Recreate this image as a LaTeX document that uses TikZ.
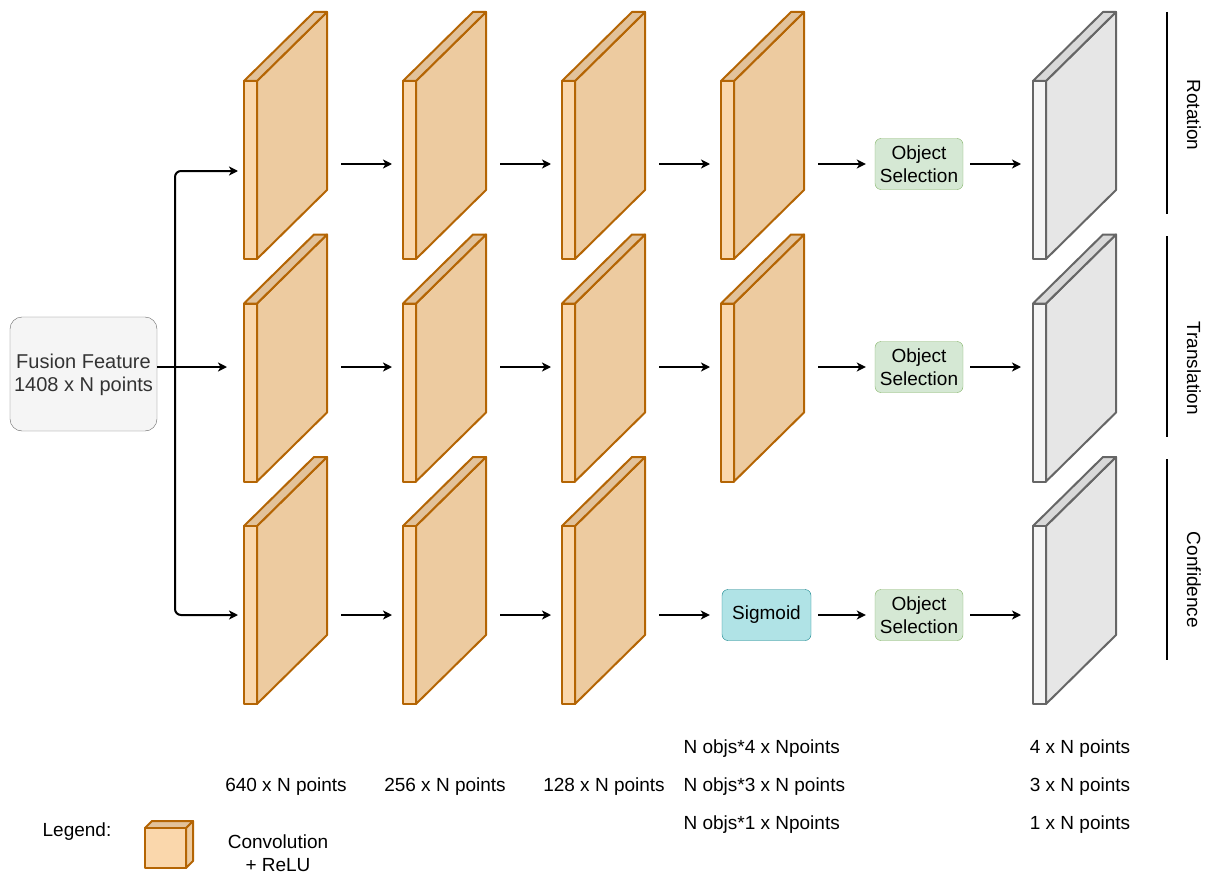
\documentclass[tikz,border=0pt]{standalone}
\usepackage{fontspec}
\setmainfont{Liberation Sans}
\definecolor{convFront}{HTML}{FAD7AC}
\definecolor{convSide}{HTML}{EDCBA0}
\definecolor{convTop}{HTML}{E2C29A}
\definecolor{convLine}{HTML}{B46504}
\definecolor{outFront}{HTML}{F5F5F5}
\definecolor{outSide}{HTML}{E6E6E6}
\definecolor{outTop}{HTML}{D9D9D9}
\definecolor{outLine}{HTML}{666666}
\definecolor{selFill}{HTML}{D5E8D4}
\definecolor{selLine}{HTML}{82B366}
\definecolor{sigFill}{HTML}{B0E3E6}
\definecolor{sigLine}{HTML}{0E8088}
\definecolor{inText}{HTML}{333333}
\usetikzlibrary{arrows.meta,positioning}

\begin{document}
\begin{tikzpicture}[x=1pt, y=-1pt,
  every node/.style={font=\fontsize{19}{23}\selectfont, align=center},
  flow/.style={line width=2pt, -{Stealth[length=9pt,width=9pt,inset=2.5pt]}},
  convface/.style={draw=convLine, line width=2pt, line join=round},
  outface/.style={draw=outLine, line width=2pt, line join=round},
  selbox/.style={draw=selLine, fill=selFill, rounded corners=6pt, minimum width=88pt, minimum height=51pt, inner sep=0pt},
  sigbox/.style={draw=sigLine, fill=sigFill, rounded corners=6pt, minimum width=89pt, minimum height=51pt, inner sep=0pt},
  sidelabel/.style={rotate=-90}]
  \useasboundingbox (0,0) rectangle (1211,875);

  % Input box
  \node[draw=outLine, fill=outFront, rounded corners=12pt, minimum width=147pt, minimum height=114pt,
        inner sep=0pt, text=inText, font=\fontsize{20}{23.5}\selectfont] (fusion) at (83.5,374) {\strut Fusion Feature\\1408 x N points};

  % Convolution plates (x, top of front face, arrow height, name)
  \foreach \x/\y/\a/\n in {244/81/164/a1, 403/81/164/a2, 562/81/164/a3, 721/81/164/a4,
                           244/303.5/367/b1, 403/303.5/367/b2, 562/303.5/367/b3, 721/303.5/367/b4,
                           244/526/615/c1, 403/526/615/c2, 562/526/615/c3} {
    \filldraw[convface, fill=convSide] (\x+13,\y) -- ++(70,-69) -- ++(0,178) -- ++(-70,69) -- cycle;
    \filldraw[convface, fill=convTop] (\x,\y) -- ++(13,0) -- ++(70,-69) -- ++(-13,0) -- cycle;
    \filldraw[convface, fill=convFront] (\x,\y) rectangle ++(13,178);
    \coordinate (\n-in) at (\x-11,\a);
    \coordinate (\n-out) at (\x+97,\a);
  }

  % Output plates
  \foreach \y/\a/\n in {81/164/g1, 303.5/367/g2, 526/615/g3} {
    \filldraw[outface, fill=outSide] (1046,\y) -- ++(70,-69) -- ++(0,178) -- ++(-70,69) -- cycle;
    \filldraw[outface, fill=outTop] (1033,\y) -- ++(13,0) -- ++(70,-69) -- ++(-13,0) -- cycle;
    \filldraw[outface, fill=outFront] (1033,\y) rectangle ++(13,178);
    \coordinate (\n-in) at (1021,\a);
  }

  % Heads
  \node[selbox] (sel1) at (919,164) {Object\\Selection};
  \node[selbox] (sel2) at (919,367) {Object\\Selection};
  \node[selbox] (sel3) at (919,615) {Object\\Selection};
  \node[sigbox] (sig) at (766.5,615) {Sigmoid};

  % Input split
  \coordinate (bus) at (175,367);
  \coordinate (in1) at (238,171);
  \coordinate (in2) at (227,367);
  \coordinate (in3) at (238,615);
  \draw[flow] (fusion.east |- in2) -- (in2);
  \draw[flow, rounded corners=6pt] (bus) |- (in1);
  \draw[flow, rounded corners=6pt] (bus) |- (in3);

  % Layer to layer
  \foreach \s/\t in {a1/a2, a2/a3, a3/a4, b1/b2, b2/b3, b3/b4, c1/c2, c2/c3}
    \draw[flow] (\s-out) -- (\t-in);
  \draw[flow, shorten >=9pt] (a4-out) -- (sel1.west);
  \draw[flow, shorten >=9pt] (b4-out) -- (sel2.west);
  \draw[flow, shorten >=12pt] (c3-out) -- (sig.west);
  \draw[flow, shorten <=7pt, shorten >=9pt] (sig.east) -- (sel3.west);
  \draw[flow, shorten <=7pt] (sel1.east) -- (g1-in);
  \draw[flow, shorten <=7pt] (sel2.east) -- (g2-in);
  \draw[flow, shorten <=7pt] (sel3.east) -- (g3-in);

  % Output groups
  \draw[line width=1.5pt] (1167,12) -- (1167,214);
  \draw[line width=1.5pt] (1167,236) -- (1167,437);
  \draw[line width=1.5pt] (1167,459) -- (1167,660);
  \node[sidelabel] (rot) at (1194,115) {Rotation};
  \node[sidelabel] (trans) at (1194,368) {Translation};
  \node[sidelabel] (conf) at (1194,580) {Confidence};

  % Sizes
  \node (s1) at (286,787) {640 x N points};
  \node (s2) at (445,787) {256 x N points};
  \node (s3) at (604,787) {128 x N points};
  \node[anchor=west] (s4a) at (680,749) {N objs*4 x Npoints};
  \node[anchor=west] (s4b) at (680,787) {N objs*3 x N points};
  \node[anchor=west] (s4c) at (680,825) {N objs*1 x Npoints};
  \node (s5a) at (1080,749) {4 x N points};
  \node (s5b) at (1080,787) {3 x N points};
  \node (s5c) at (1080,825) {1 x N points};

  % Legend
  \node (legend) at (77,832) {Legend:};
  \filldraw[convface, fill=convSide] (186,828) -- ++(7,-7) -- ++(0,40) -- ++(-7,7) -- cycle;
  \filldraw[convface, fill=convTop] (145,828) -- ++(41,0) -- ++(7,-7) -- ++(-41,0) -- cycle;
  \filldraw[convface, fill=convFront] (145,828) rectangle (186,868);
  \node (conv) at (278,853.5) {Convolution\\+ ReLU};
\end{tikzpicture}
\end{document}
